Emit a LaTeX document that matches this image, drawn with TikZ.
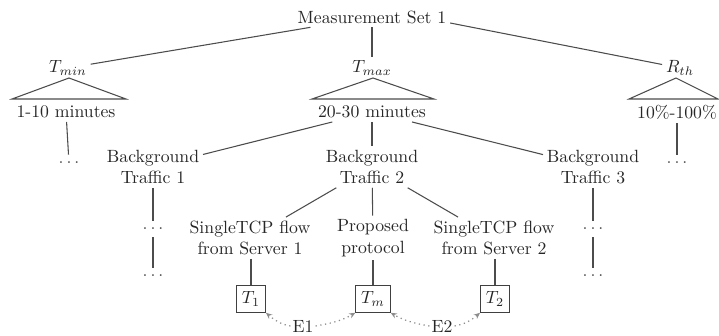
\documentclass[tikz,border=0pt]{standalone}
\usetikzlibrary{arrows.meta}
\begin{document}
\begin{tikzpicture}[x=0.565pt,y=-0.565pt,
  lbl/.style={inner sep=2pt,text=black!85,align=center},
  more/.style={inner sep=0pt,minimum height=9pt,minimum width=10pt,text=black!70},
  link/.style={draw=black!70,line width=0.6pt},
  tbox/.style={draw=black!75,line width=0.6pt,inner sep=3pt,minimum height=15pt,minimum width=16pt,text=black!85},
  err/.style={draw=black!45,line width=0.7pt,dotted,-{Stealth[length=3.5pt,width=3pt]}},
  tri/.style={draw=black!70,line width=0.6pt}]
\useasboundingbox (0,0) rectangle (719,335);

% top level
\node[lbl] (root) at (372,17) {Measurement Set 1};
\node[lbl] (tmin) at (68,68) {$T_{min}$};
\node[lbl] (tmax) at (372,68) {$T_{max}$};
\node[lbl] (rth) at (680,68) {$R_{th}$};

% parameter ranges
\node[lbl] (rmin) at (66,112) {1-10 minutes};
\node[lbl] (rmax) at (372,112) {20-30 minutes};
\node[lbl] (rr) at (677,112) {10\%-100\%};

% range triangles
\coordinate (amin) at (69,78);
\coordinate (amax) at (373,78);
\coordinate (ar) at (676,78);
\draw[tri] (amin) -- ++(-57,21) -- ++(114,0) -- cycle;
\draw[tri] (amax) -- ++(-61,21) -- ++(122,0) -- cycle;
\draw[tri] (ar) -- ++(-47,21) -- ++(89,0) -- cycle;

% continuation dots under the side branches
\node[more] (dmin) at (69,163) {$\ldots$};
\node[more] (dr) at (677,163) {$\ldots$};

% background traffic
\node[lbl] (bg1) at (153,167) {Background\\Traffic 1};
\node[lbl] (bg2) at (372,167) {Background\\Traffic 2};
\node[lbl] (bg3) at (593,167) {Background\\Traffic 3};

\node[more] (bg1a) at (153,229) {$\ldots$};
\node[more] (bg1b) at (153,276) {$\ldots$};
\node[more] (bg3a) at (593,229) {$\ldots$};
\node[more] (bg3b) at (593,276) {$\ldots$};

% flows
\node[lbl] (f1) at (250,238) {SingleTCP flow\\from Server 1};
\node[lbl] (fm) at (373,238) {Proposed\\protocol};
\node[lbl] (f2) at (494,238) {SingleTCP flow\\from Server 2};

% throughput boxes
\node[tbox] (t1) at (251,299) {$T_1$};
\node[tbox] (tm) at (373,299) {$T_m$};
\node[tbox] (t2) at (495,299) {$T_2$};

\node[lbl,inner sep=1pt] (e1) at (303,326) {E1};
\node[lbl,inner sep=1pt] (e2) at (442,326) {E2};

% tree edges
\draw[link] (root) -- (tmin);
\draw[link] (root) -- (tmax);
\draw[link] (root.east) ++(0,6) -- (rth);
\draw[link] (rmin) -- (dmin);
\draw[link] (rr) -- (dr);
\draw[link] (rmax) -- (bg1);
\draw[link] (rmax) -- (bg2);
\draw[link] (rmax) -- (bg3);
\draw[link] (bg1) -- (bg1a);
\draw[link] (bg1a) -- (bg1b);
\draw[link] (bg3) -- (bg3a);
\draw[link] (bg3a) -- (bg3b);
\draw[link] (bg2) -- (f1);
\draw[link] (bg2) -- (fm);
\draw[link] (bg2) -- (f2);
\draw[link] (f1.south -| t1.north) -- (t1);
\draw[link] (fm) -- (tm);
\draw[link] (f2.south -| t2.north) -- (t2);

% error comparisons
\draw[err] (e1.west) to[out=170,in=-40] (t1.south east);
\draw[err] (e1.east) to[out=10,in=-150] (tm.south west);
\draw[err] (e2.west) to[out=170,in=-30] (tm.south east);
\draw[err] (e2.east) to[out=10,in=-140] (t2.south west);
\end{tikzpicture}
\end{document}
